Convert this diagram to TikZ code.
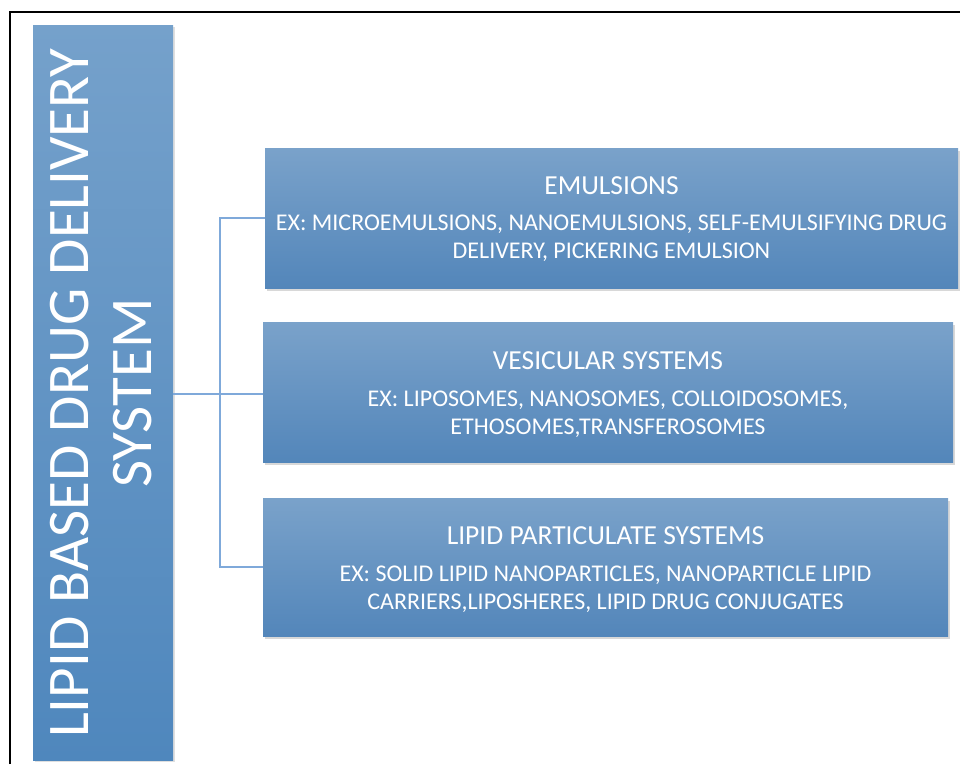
\documentclass[tikz,border=0pt]{standalone}
\usepackage{fontspec}
\setmainfont{Carlito}
\usetikzlibrary{shadows}
\definecolor{barTop}{HTML}{75A1CB}
\definecolor{barBot}{HTML}{4F87BD}
\definecolor{boxTop}{HTML}{7AA2CA}
\definecolor{boxBot}{HTML}{5386BA}
\definecolor{linkBlue}{HTML}{7FA9DA}
\tikzset{
  titlebar/.style={minimum width=140pt, minimum height=735pt, inner sep=0pt,
    top color=barTop, bottom color=barBot, draw=none,
    drop shadow={shadow xshift=2pt, shadow yshift=-2pt, opacity=0.25}},
  groupbox/.style={minimum height=140pt, inner sep=0pt, draw=none,
    top color=boxTop, bottom color=boxBot,
    drop shadow={shadow xshift=2pt, shadow yshift=-3pt, opacity=0.3}},
  heading/.style={text=white, font=\fontsize{27.5}{30}\selectfont},
  body/.style={text=white, font=\fontsize{24}{28}\selectfont, align=center},
  conn/.style={draw=linkBlue, line width=1.6pt},
}
\begin{document}
\begin{tikzpicture}[x=1pt, y=-1pt]
\useasboundingbox (0,0) rectangle (962,764);
\fill[white] (0,0) rectangle (962,764);
% outer frame (open to the right and bottom)
\draw[line width=2pt] (10,764) -- (10,12) -- (960,12);

% vertical title bar
\node[titlebar] (title) at (103,392.5) {};
\node[text=white, rotate=90, align=center, font=\fontsize{59}{63}\selectfont]
  (titletext) at (101.5,393) {LIPID BASED DRUG DELIVERY\\SYSTEM};

% group boxes
\node[groupbox, minimum width=693pt] (emul) at (611.5,218) {};
\node[groupbox, minimum width=690pt] (vesic) at (608,392) {};
\node[groupbox, minimum width=685pt, minimum height=138pt] (part) at (605.5,567) {};

\node[heading] (emulh) at (611.5,186) {EMULSIONS};
\node[body] (emulb) at (611.5,238) {EX: MICROEMULSIONS, NANOEMULSIONS, SELF-EMULSIFYING DRUG\\DELIVERY, PICKERING EMULSION};

\node[heading] (vesich) at (608,361) {VESICULAR SYSTEMS};
\node[body] (vesicb) at (608,414.5) {EX: LIPOSOMES, NANOSOMES, COLLOIDOSOMES,\\ETHOSOMES,TRANSFEROSOMES};

\node[heading] (parth) at (605.5,536) {LIPID PARTICULATE SYSTEMS};
\node[body] (partb) at (605.5,589.5) {EX: SOLID LIPID NANOPARTICLES, NANOPARTICLE LIPID\\CARRIERS,LIPOSHERES, LIPID DRUG CONJUGATES};

% connectors
\coordinate (junction) at (220,394);
\draw[conn] (title.east |- junction) -- (vesic.west |- junction);
\draw[conn] (emul.west) -| (junction) |- (part.west);
\end{tikzpicture}
\end{document}
